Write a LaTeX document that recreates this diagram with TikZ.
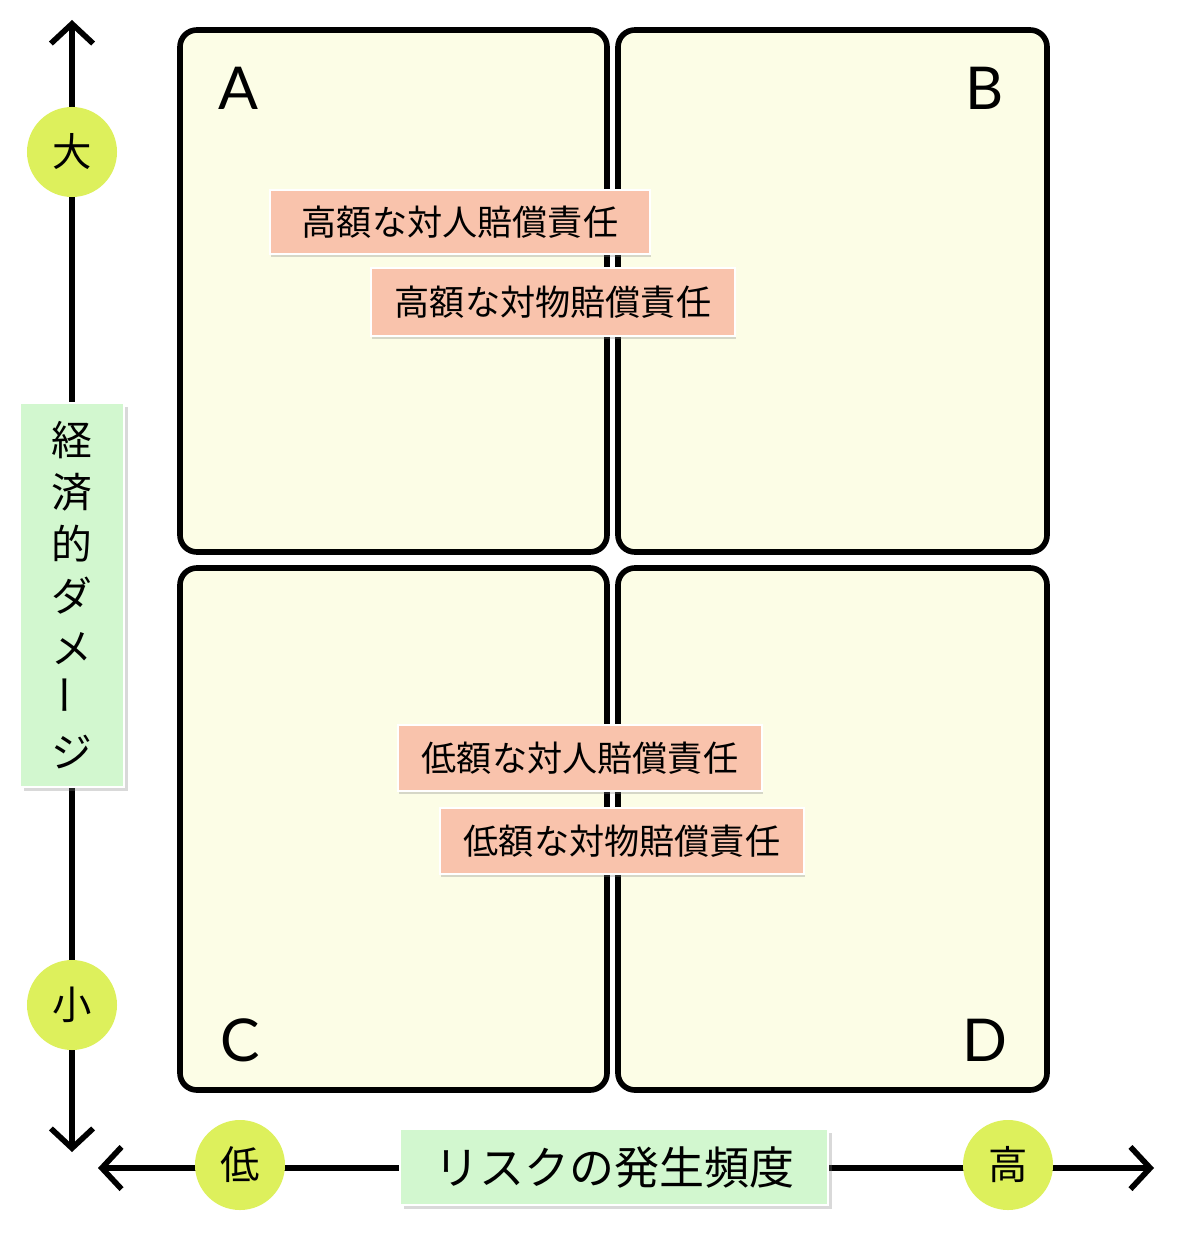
\documentclass[tikz,border=0pt]{standalone}
\usepackage{fontspec}
\setmainfont{Lato}
\newfontfamily\cjk{Noto Sans CJK JP}
\usetikzlibrary{arrows.meta,shadows}
\definecolor{cream}{HTML}{FCFDE6}
\definecolor{pinkl}{HTML}{F9C3AC}
\definecolor{greenl}{HTML}{D2F7CF}
\definecolor{yel}{HTML}{DDF05C}
\begin{document}
\begin{tikzpicture}[x=0.025cm,y=-0.025cm,
  quad/.style={draw=black,line width=4pt,rounded corners=12pt,fill=cream},
  tag/.style={fill=pinkl,draw=white,line width=2pt,font=\cjk\fontsize{25}{28}\selectfont,drop shadow={opacity=0.3,shadow xshift=1pt,shadow yshift=-2pt}},
  lab/.style={fill=greenl,draw=white,line width=2pt,drop shadow={opacity=0.3}},
  dot/.style={circle,fill=yel,minimum size=2.25cm,inner sep=0pt,font=\cjk\fontsize{28}{30}\selectfont},
  ax/.style={line width=4.5pt,{Straight Barb[length=14pt,width=30pt,line width=4pt]}-{Straight Barb[length=14pt,width=30pt,line width=4pt]}},
  letter/.style={font=\fontsize{42}{46}\selectfont}]
\useasboundingbox (0,0) rectangle (1200,1233);
\coordinate (vt) at (72,20); \coordinate (vb) at (72,1152);
\coordinate (hl) at (98,1168); \coordinate (hr) at (1154,1168);
\draw[ax] (vt) -- (vb);
\draw[ax] (hl) -- (hr);
\draw[quad] (180,30) rectangle (607,552);
\draw[quad] (618,30) rectangle (1047,552);
\draw[quad] (180,568) rectangle (607,1090);
\draw[quad] (618,568) rectangle (1047,1090);
\node[letter] (lA) at (238,88) {A};
\node[letter] (lB) at (985,88) {B};
\node[letter] (lC) at (240,1040) {C};
\node[letter] (lD) at (985,1040) {D};
\node[tag,minimum width=9.5cm,minimum height=1.6cm] (t1) at (460,222) {高額な対人賠償責任};
\node[tag,minimum width=9.1cm,minimum height=1.7cm] (t2) at (553,302) {高額な対物賠償責任};
\node[tag,minimum width=9.1cm,minimum height=1.65cm] (t3) at (580,758) {低額な対人賠償責任};
\node[tag,minimum width=9.1cm,minimum height=1.65cm] (t4) at (622,841) {低額な対物賠償責任};
\node[dot] (big) at (72,152) {大};
\node[dot] (small) at (72,1005) {小};
\node[dot] (low) at (240,1165) {低};
\node[dot] (high) at (1008,1165) {高};
\node[lab,minimum width=2.6cm,minimum height=9.6cm,align=center,font=\cjk\fontsize{29}{37}\selectfont] (yl) at (72,595) {経\\済\\的\\ダ\\メ\\\rotatebox{90}{ー}\\ジ};
\node[lab,minimum width=10.7cm,minimum height=1.9cm,font=\cjk\fontsize{32}{34}\selectfont] (xl) at (614,1167) {リスクの発生頻度};
\end{tikzpicture}
\end{document}
